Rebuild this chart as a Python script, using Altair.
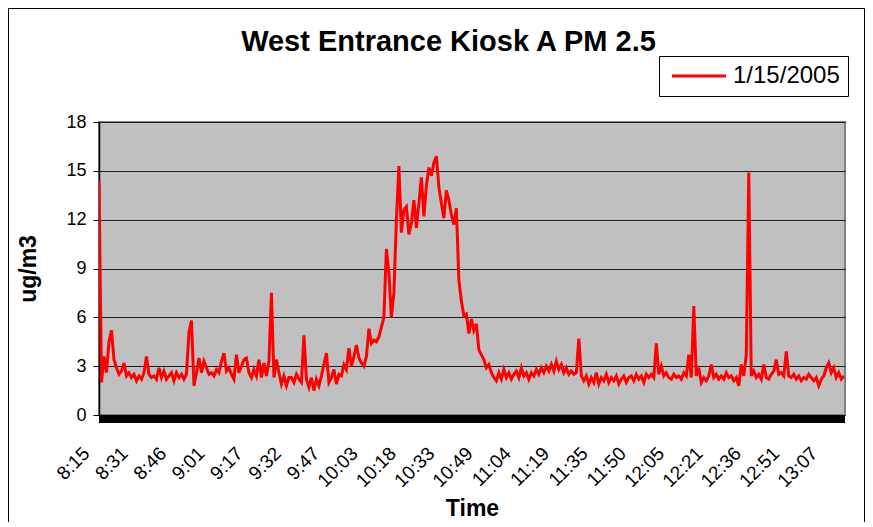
import altair as alt
import pandas as pd

TITLE = "West Entrance Kiosk A PM 2.5"
SERIES = "1/15/2005"
Y_TITLE = "ug/m3"
X_TITLE = "Time"

TICK_LABELS = ["8:15", "8:31", "8:46", "9:01", "9:17", "9:32", "9:47", "10:03",
               "10:18", "10:33", "10:49", "11:04", "11:19", "11:35", "11:50",
               "12:05", "12:21", "12:36", "12:51", "13:07"]
Y_TICKS = [0, 3, 6, 9, 12, 15, 18]

# one reading per minute, starting 8:15:40 (ticks every 46 samples of 20 s)
pm_0815 = [14.4, 2.0, 3.6, 2.6, 4.5, 5.2, 3.4, 2.9, 2.5, 2.7,
           3.2, 2.4, 2.6, 2.3, 2.5, 2.1, 2.4, 2.2, 2.6, 3.6,
           2.5, 2.3, 2.4, 2.2, 2.9, 2.3, 2.7, 2.2, 2.4, 2.6,
           2.1, 2.6, 2.3, 2.5, 2.2, 2.5, 5.1, 5.8, 1.8, 2.6,
           3.5, 2.6, 3.3, 2.9, 2.5, 2.6, 2.4, 2.8, 2.6, 3.3,
           3.8, 2.7, 2.9, 2.5, 2.2, 3.7, 2.6, 3.0, 3.4, 3.5,
           2.6, 2.3, 2.8, 2.4, 3.4, 2.3, 3.2, 2.4, 3.3, 7.5,
           2.3, 3.4, 2.6, 1.9, 2.4, 1.8, 2.3]
pm_0932 = [2.3, 2.0, 2.5, 2.2, 2.0, 4.9, 2.2, 1.7, 2.3, 1.5,
           2.2, 1.8, 2.4, 3.1, 3.8, 2.0, 2.3, 2.8, 1.9, 2.5,
           2.4, 3.1, 2.8, 4.1, 3.0, 3.6, 4.3, 3.5, 3.2, 3.0,
           3.6, 5.3, 4.4, 4.6, 4.5, 4.8, 5.4, 6.0, 10.2, 8.7,
           6.0, 7.5, 12.0, 15.3, 11.2, 12.6, 12.8, 11.1, 11.8, 13.2,
           11.5, 13.0, 14.6, 12.2, 14.1, 15.2, 14.7, 15.5, 15.9, 14.0,
           13.0, 12.1, 13.8, 13.2, 12.3, 11.7, 12.7, 8.3, 7.0, 6.1,
           6.2, 5.0, 5.9, 5.2, 5.6, 4.0]
pm_1051 = [3.7, 3.4, 2.9, 3.1, 2.6, 2.3, 2.1, 2.6, 2.2, 2.8,
           2.3, 2.6, 2.2, 2.5, 2.7, 2.3, 2.9, 2.4, 2.6, 2.2,
           2.6, 2.4, 2.8, 2.5, 2.9, 2.6, 3.0, 2.7, 3.1, 2.7,
           3.3, 2.8, 3.1, 2.6, 2.9, 2.5, 2.7, 2.5, 2.6, 4.7,
           2.4, 2.1, 2.4, 1.9, 2.3, 2.0, 2.6, 1.9, 2.3, 2.1,
           2.5, 2.0, 2.3, 2.1, 2.4, 1.9, 2.2, 2.4, 2.0, 2.3,
           2.4, 2.1, 2.5, 2.2, 2.4, 2.0, 2.5, 2.3, 2.5, 2.3,
           4.4, 2.5, 3.0, 2.4, 2.6, 2.3]
pm_1207 = [2.2, 2.5, 2.3, 2.4, 2.2, 2.6, 2.4, 3.7, 2.3, 6.7,
           2.4, 2.9, 2.0, 2.3, 2.1, 2.4, 3.1, 2.3, 2.5, 2.2,
           2.4, 2.2, 2.6, 2.3, 2.4, 2.1, 2.3, 1.8, 3.1, 2.4,
           3.7, 14.9, 2.4, 2.7, 2.3, 2.5, 2.2, 3.1, 2.3, 2.2,
           2.5, 2.7, 3.4, 2.5, 2.6, 2.4, 3.9, 2.4, 2.3, 2.5,
           2.2, 2.4, 2.1, 2.3, 2.2, 2.5, 2.3, 2.1, 2.3, 1.8,
           2.2, 2.4, 2.9, 3.2, 2.6, 2.9, 2.3, 2.6, 2.2, 2.4]

values = pm_0815 + pm_0932 + pm_1051 + pm_1207
SAMPLE_MIN = 1.0
TICK_STEP = 46 * 20 / 60.0  # minutes between category labels
X_END = 298.5

df = pd.DataFrame({
    "minute": [i * SAMPLE_MIN for i in range(len(values))],
    "pm": values,
    "series": [SERIES] * len(values),
})
one = pd.DataFrame({"k": [0]})

FONT = "Liberation Sans"
W, H = 746, 293

label_js = "[" + ",".join("'" + s + "'" for s in TICK_LABELS) + "]"
tick_vals = [round(i * TICK_STEP, 4) for i in range(len(TICK_LABELS))]

x_enc = alt.X(
    "minute:Q",
    scale=alt.Scale(domain=[0, X_END], nice=False, zero=False),
    axis=alt.Axis(
        values=tick_vals,
        labelExpr=label_js + "[round(datum.value/" + str(TICK_STEP) + ")]",
        labelAngle=-45, labelAlign="right", labelBaseline="middle",
        labelFontSize=19, labelPadding=35, labelOffset=-13,
        labelOverlap=False, labelFlush=False, labelBound=False,
        ticks=False, domain=False, grid=False,
        title=X_TITLE, titleFontSize=23, titleFontWeight="bold", titlePadding=7,
    ),
)
y_enc = alt.Y(
    "pm:Q",
    scale=alt.Scale(domain=[0, 18], nice=False, zero=True),
    axis=alt.Axis(
        values=Y_TICKS, labelFontSize=18, labelPadding=7,
        tickSize=6, tickColor="black", tickWidth=1,
        domainColor="black", domainWidth=1.5,
        grid=True, gridColor="#1e1e1e", gridWidth=1,
        title=Y_TITLE, titleFontSize=23, titleFontWeight="bold", titlePadding=25,
    ),
)

frame = alt.Chart(one).mark_rect(
    fillOpacity=0, stroke="black", strokeWidth=1
).encode(
    x=alt.value(-90.5), x2=alt.value(765.5), y=alt.value(-113.5), y2=alt.value(430)
)

title_text = alt.Chart(one).mark_text(
    text=TITLE, fontSize=29, fontWeight="bold", align="center",
    baseline="alphabetic", color="black"
).encode(x=alt.value(349.5), y=alt.value(-71))

floor_bar = alt.Chart(one).mark_rect(color="black").encode(
    x=alt.value(0), x2=alt.value(W), y=alt.value(H), y2=alt.value(H + 8)
)

line = alt.Chart(df).mark_line(strokeWidth=3, clip=True).encode(
    x=x_enc,
    y=y_enc,
    color=alt.Color(
        "series:N",
        scale=alt.Scale(domain=[SERIES], range=["#FF0000"]),
        legend=alt.Legend(
            title=None, orient="none", legendX=560, legendY=-66,
            symbolType="M-2.7,0H2.7", symbolSize=400, symbolStrokeWidth=3,
            symbolOffset=20, labelFontSize=24, labelOffset=22, padding=8,
            strokeColor="black", fillColor="white", labelColor="black",
        ),
    ),
)

chart = alt.layer(frame, title_text, line, floor_bar).properties(
    width=W, height=H,
    autosize=alt.AutoSizeParams(type="none"),
    padding={"left": 91, "top": 114, "right": 20, "bottom": 107},
    background="white",
).configure(font=FONT).configure_view(
    fill="#C0C0C0", stroke="#808080", strokeWidth=2
).configure_axis(labelColor="black", titleColor="black")

chart.save("out.html", embed_options={"renderer": "svg", "actions": False})
